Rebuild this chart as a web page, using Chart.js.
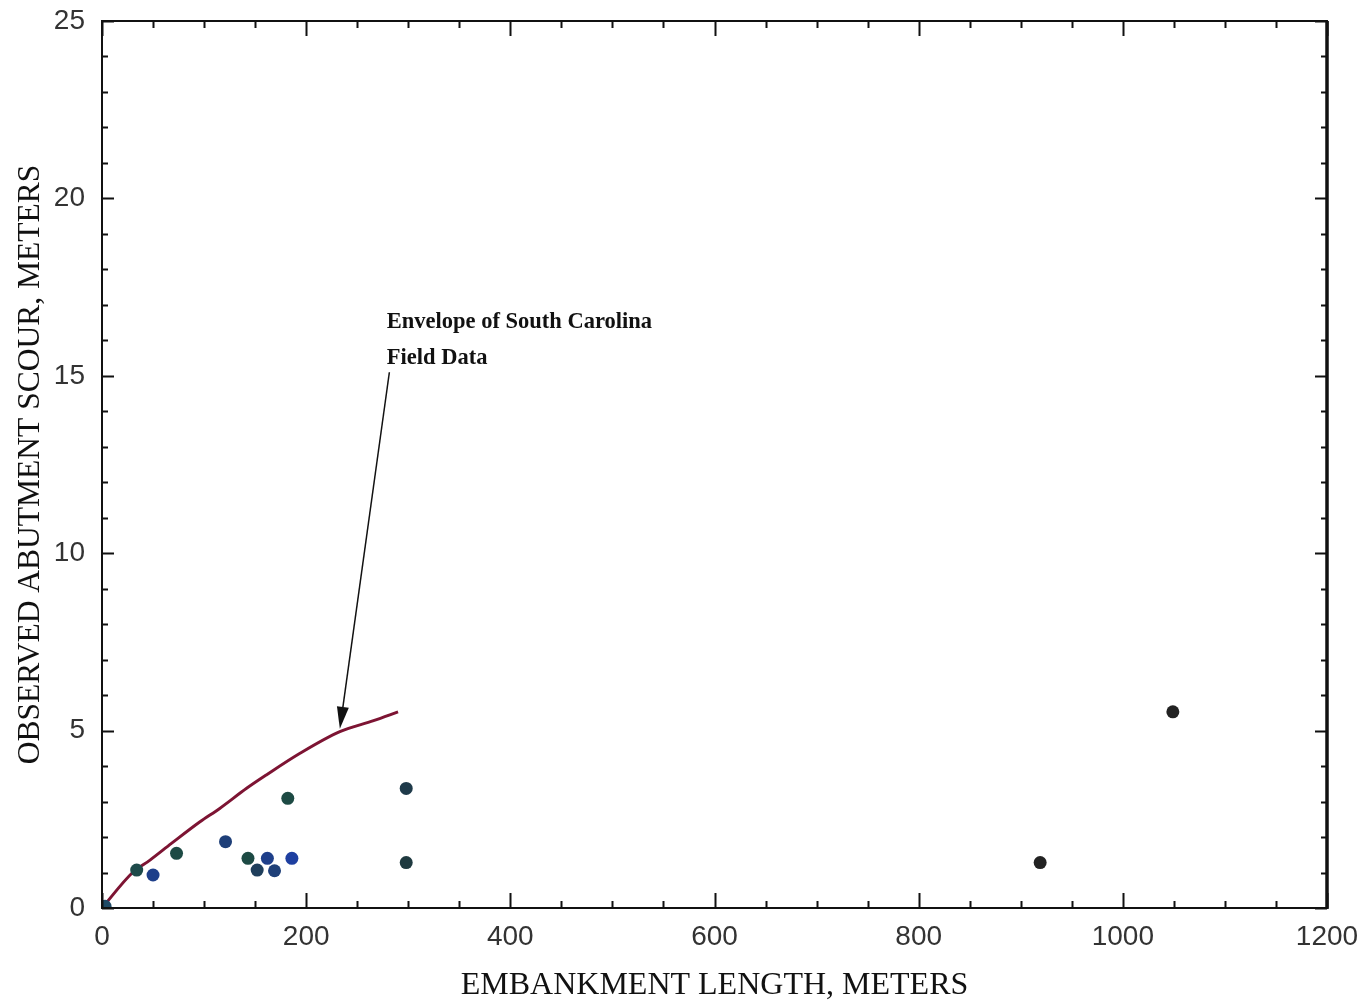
<!DOCTYPE html>
<html>
<head>
<meta charset="utf-8">
<script src="https://cdn.jsdelivr.net/npm/chart.js@4.4.0/dist/chart.umd.min.js"></script>
<style>
  html, body { margin: 0; padding: 0; background: #fff; }
  #wrap { width: 1369px; height: 1005px; }
</style>
</head>
<body>
<div id="wrap"><canvas id="scourChart" width="1369" height="1005"></canvas></div>
<script>
// observed field data (embankment length m, scour m)
var lengthVals = [3, 34, 50, 73, 121, 143, 152, 162, 169, 182, 186, 298, 298, 919, 1049];
var scourVals  = [0.05, 1.07, 0.93, 1.54, 1.87, 1.4, 1.07, 1.4, 1.05, 3.09, 1.4, 3.37, 1.28, 1.28, 5.53];
var pointColors = ['#1f4a66', '#1d4a4a', '#1e3f8a', '#1d4a44', '#1e3f78', '#1d4a44', '#1f3f5c',
                   '#1e3f8a', '#1e3f78', '#1d4a44', '#1e3fa0', '#1f3a4a', '#1f3a40', '#222', '#222'];

// envelope curve
var envX = [0, 30, 47, 68, 96, 115, 142, 161, 194, 233, 266, 290];
var envY = [0, 1.0, 1.35, 1.82, 2.43, 2.8, 3.38, 3.75, 4.36, 4.97, 5.28, 5.53];

var xTicks = [0, 200, 400, 600, 800, 1000, 1200];
var yTicks = [0, 5, 10, 15, 20, 25];

var noteLines = ['Envelope of South Carolina', 'Field Data'];
var noteAt = { x: 279, y: [16.35, 15.33] };
var arrowFrom = { x: 281.5, y: 15.1 };
var arrowTo = { x: 233, y: 5.05 };

function toPts(xs, ys) {
    var out = [];
    for (var i = 0; i < xs.length; i++) {
        out.push({ x: xs[i], y: ys[i] });
    }
    return out;
}

// frame, inside ticks on all four sides, and the annotation
var framePlugin = {
    id: 'frame',
    afterDraw: function (chart) {
        var ctx = chart.ctx;
        var a = chart.chartArea;
        var xs = chart.scales.x, ys = chart.scales.y;
        ctx.save();
        ctx.strokeStyle = '#111';
        ctx.lineWidth = 2;
        ctx.beginPath();
        // minor + major ticks on x (bottom and top)
        for (var v = 0; v <= 1200; v += 50) {
            var px = Math.round(xs.getPixelForValue(v)) + 0.5;
            var len = (v % 200 === 0) ? 15 : 7;
            ctx.moveTo(px, a.bottom); ctx.lineTo(px, a.bottom - len);
            ctx.moveTo(px, a.top); ctx.lineTo(px, a.top + len);
        }
        // ticks on y (left and right)
        for (var w = 0; w <= 25; w += 1) {
            var py = Math.round(ys.getPixelForValue(w)) + 0.5;
            var l2 = (w % 5 === 0) ? 12 : 6;
            ctx.moveTo(a.left, py); ctx.lineTo(a.left + l2, py);
            ctx.moveTo(a.right, py); ctx.lineTo(a.right - l2, py);
        }
        ctx.stroke();

        ctx.lineWidth = 2;
        ctx.strokeRect(a.left, a.top, a.right - a.left, a.bottom - a.top);
        ctx.lineWidth = 3.5;
        ctx.beginPath();
        ctx.moveTo(a.right, a.top); ctx.lineTo(a.right, a.bottom + 1);
        ctx.stroke();

        // note text
        ctx.fillStyle = '#111';
        ctx.font = 'bold 22.5px "Liberation Serif", "Times New Roman", serif';
        ctx.textBaseline = 'alphabetic';
        ctx.textAlign = 'left';
        for (var k = 0; k < noteLines.length; k++) {
            ctx.fillText(noteLines[k], xs.getPixelForValue(noteAt.x), ys.getPixelForValue(noteAt.y[k]));
        }

        // arrow
        var x0 = xs.getPixelForValue(arrowFrom.x), y0 = ys.getPixelForValue(arrowFrom.y);
        var x1 = xs.getPixelForValue(arrowTo.x), y1 = ys.getPixelForValue(arrowTo.y);
        var ang = Math.atan2(y1 - y0, x1 - x0);
        var hl = 22, hw = 6;
        var bx = x1 - hl * Math.cos(ang), by = y1 - hl * Math.sin(ang);
        ctx.lineWidth = 1.5;
        ctx.beginPath();
        ctx.moveTo(x0, y0); ctx.lineTo(bx, by);
        ctx.stroke();
        ctx.beginPath();
        ctx.moveTo(x1, y1);
        ctx.lineTo(bx + hw * Math.sin(ang), by - hw * Math.cos(ang));
        ctx.lineTo(bx - hw * Math.sin(ang), by + hw * Math.cos(ang));
        ctx.closePath();
        ctx.fill();
        ctx.restore();
    }
};

var tickFont = { family: '"Liberation Sans", Arial, sans-serif', size: 28 };
var titleFont = { family: '"Liberation Serif", "Times New Roman", serif', size: 31.5 };

new Chart(document.getElementById('scourChart'), {
    type: 'scatter',
    data: {
        datasets: [
            {
                label: 'Envelope',
                data: toPts(envX, envY),
                showLine: true,
                borderColor: '#7d1433',
                borderWidth: 3,
                pointRadius: 0,
                cubicInterpolationMode: 'monotone',
                order: 2
            },
            {
                label: 'Observed',
                data: toPts(lengthVals, scourVals),
                pointRadius: 6.5,
                pointBackgroundColor: pointColors,
                pointBorderColor: pointColors,
                borderWidth: 0,
                order: 1
            }
        ]
    },
    options: {
        responsive: false,
        animation: false,
        layout: { padding: { left: 0, right: 42, top: 21, bottom: 0 } },
        plugins: {
            legend: { display: false },
            tooltip: { enabled: false }
        },
        scales: {
            x: {
                type: 'linear',
                min: 0,
                max: 1200,
                afterBuildTicks: function (s) { s.ticks = xTicks.map(function (v) { return { value: v }; }); },
                afterFit: function (s) { s.height = 97; s.paddingLeft = 0; s.paddingRight = 0; },
                grid: { display: false, drawTicks: false },
                border: { display: false },
                ticks: {
                    font: tickFont, color: '#333', padding: 12, maxRotation: 0,
                    callback: function (v) { return String(v); }
                },
                title: {
                    display: true,
                    text: 'EMBANKMENT LENGTH, METERS',
                    font: { family: titleFont.family, size: 32 },
                    color: '#111',
                    padding: { top: 2, bottom: 0 }
                }
            },
            y: {
                type: 'linear',
                min: 0,
                max: 25,
                afterBuildTicks: function (s) { s.ticks = yTicks.map(function (v) { return { value: v }; }); },
                afterFit: function (s) { s.width = 102; s.paddingTop = 0; s.paddingBottom = 0; },
                grid: { display: false, drawTicks: false },
                border: { display: false },
                ticks: { font: tickFont, color: '#333', padding: 17 },
                title: {
                    display: true,
                    text: 'OBSERVED ABUTMENT SCOUR, METERS',
                    font: titleFont,
                    color: '#111',
                    padding: { top: 12, bottom: 0 }
                }
            }
        }
    },
    plugins: [framePlugin]
});
</script>
</body>
</html>
